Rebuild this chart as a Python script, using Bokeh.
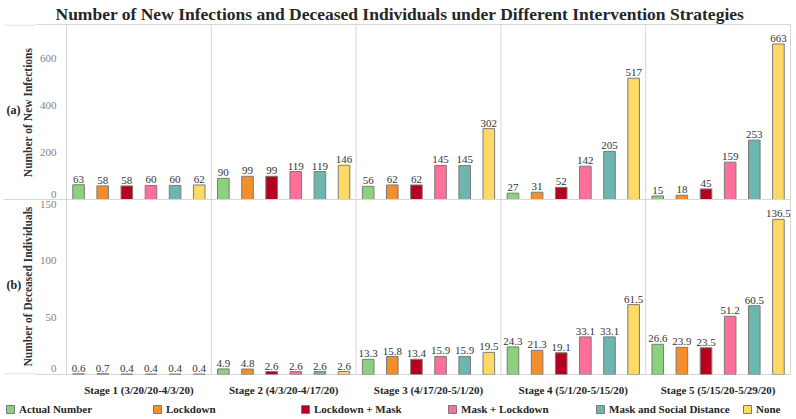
import math
from bokeh.plotting import figure
from bokeh.models import (ColumnDataSource, FactorRange, Range1d, Legend, LegendItem,
                          Span, FixedTicker)
from bokeh.transform import dodge
from bokeh.layouts import column, row
from bokeh.embed import file_html
from bokeh.resources import INLINE
from bokeh.core.properties import value

# ---------------- data ----------------
stages = ["Stage 1 (3/20/20-4/3/20)", "Stage 2 (4/3/20-4/17/20)", "Stage 3 (4/17/20-5/1/20)",
          "Stage 4 (5/1/20-5/15/20)", "Stage 5 (5/15/20-5/29/20)"]
strategies = ["Actual Number", "Lockdown", "Lockdown + Mask", "Mask + Lockdown",
              "Mask and Social Distance", "None"]
colors = ["#8cd17d", "#f28e2b", "#b5001f", "#ff6f9c", "#6db6ae", "#ffd966"]

inf_actual = [63, 90, 56, 27, 15]
inf_lockdown = [58, 99, 62, 31, 18]
inf_lockdown_mask = [58, 99, 62, 52, 45]
inf_mask_lockdown = [60, 119, 145, 142, 159]
inf_mask_distance = [60, 119, 145, 205, 253]
inf_none = [62, 146, 302, 517, 663]

dec_actual = [0.6, 4.9, 13.3, 24.3, 26.6]
dec_lockdown = [0.7, 4.8, 15.8, 21.3, 23.9]
dec_lockdown_mask = [0.4, 2.6, 13.4, 19.1, 23.5]
dec_mask_lockdown = [0.4, 2.6, 15.9, 33.1, 51.2]
dec_mask_distance = [0.4, 2.6, 15.9, 33.1, 60.5]
dec_none = [0.4, 2.6, 19.5, 61.5, 136.5]

inf_ticks = [0, 200, 400, 600]
dec_ticks = [0, 50, 100, 150]

infections = [inf_actual, inf_lockdown, inf_lockdown_mask, inf_mask_lockdown, inf_mask_distance, inf_none]
deceased = [dec_actual, dec_lockdown, dec_lockdown_mask, dec_mask_lockdown, dec_mask_distance, dec_none]

title_text = "Number of New Infections and Deceased Individuals under Different Intervention Strategies"
inf_label = "Number of New Infections"
dec_label = "Number of Deceased Individuals"

# ---------------- layout constants ----------------
SERIF = "Liberation Serif"
GRID = "#d6d6d6"
SIDE_W = 36            # narrow figure holding "(a)", "(b)" and the axis titles
MAIN_W = 755
TOTAL_W = SIDE_W + MAIN_W
TITLE_H = 27           # height taken by the title panel
BOTTOM_B = 23          # room for stage labels
LEFT_B = 30            # room for tick labels
HT, HB = 174, 174      # pixel heights of the two panels
H = HT + HB
MAIN_H = TITLE_H + H + BOTTOM_B
LEG_H = 20
I_END = 746
D_END = 154
Y_END = D_END * H / HB

n = len(strategies)
slot = 1.0 / n
bar_w = slot * 0.48

# primary y range = deceased panel (bottom); extra range "inf" = top panel
main = figure(x_range=FactorRange(*stages, range_padding=0),
              y_range=Range1d(0, Y_END),
              width=MAIN_W, height=MAIN_H, output_backend="svg", toolbar_location=None,
              min_border_left=LEFT_B, min_border_right=1, min_border_top=0,
              min_border_bottom=BOTTOM_B, title=title_text)
main.extra_y_ranges = {"inf": Range1d(-HB * I_END / HT, I_END)}
main.outline_line_color = GRID
main.grid.grid_line_color = None

main.title.align = "left"
main.title.offset = -11
main.title.standoff = 2
main.title.text_font = SERIF
main.title.text_font_size = "17.5px"
main.title.text_font_style = "bold"
main.title.text_color = "#262626"

for i, name in enumerate(strategies):
    off = (i + 0.5) * slot - 0.5
    xs = dodge("stage", off, range=main.x_range)
    # top panel : infections
    s1 = ColumnDataSource(dict(stage=stages, top=infections[i],
                               label=[f"{v:d}" for v in infections[i]]))
    main.vbar(x=xs, top="top", width=bar_w, source=s1, y_range_name="inf",
              fill_color=colors[i], line_color="#7a7a7a", line_width=1)
    main.text(x=xs, y="top", text="label", source=s1, y_range_name="inf", y_offset=-2,
              text_align="center", text_baseline="bottom", text_font=value(SERIF),
              text_font_size=value("11px"), text_color="#333333")
    # bottom panel : deceased
    s2 = ColumnDataSource(dict(stage=stages, top=deceased[i],
                               label=[f"{v:.1f}" for v in deceased[i]]))
    main.vbar(x=xs, top="top", width=bar_w, source=s2,
              fill_color=colors[i], line_color="#7a7a7a", line_width=1)
    main.text(x=xs, y="top", text="label", source=s2, y_offset=-2,
              text_align="center", text_baseline="bottom", text_font=value(SERIF),
              text_font_size=value("11px"), text_color="#333333")

for k in range(1, len(stages)):
    main.add_layout(Span(location=k, dimension="height", line_color=GRID, line_width=1))
main.add_layout(Span(location=D_END, dimension="width", line_color=GRID, line_width=1))


def inf_to_primary(v, nudge_px=0.0):
    return round((HB + nudge_px + v * HT / I_END) * D_END / HB, 3)


def dec_to_primary(v, nudge_px=0.0):
    return round(v + nudge_px * D_END / HB, 3)


top_tick_pos = [inf_to_primary(v, 5 if v == 0 else 0) for v in inf_ticks]
bot_tick_pos = [dec_to_primary(v, 6 if v == 0 else 0) for v in dec_ticks]
overrides = {pos: str(v) for pos, v in zip(top_tick_pos, inf_ticks)}
overrides.update({pos: str(v) for pos, v in zip(bot_tick_pos, dec_ticks) if v == 0})

ya = main.yaxis[0]
# minor ticks are used only to carry the panel rules out into the axis margin
ya.ticker = FixedTicker(ticks=bot_tick_pos + top_tick_pos, minor_ticks=[0, D_END, Y_END])
ya.major_label_overrides = overrides
ya.axis_line_color = None
ya.major_tick_line_color = None
ya.major_tick_out = 0
ya.major_tick_in = 0
ya.minor_tick_line_color = GRID
ya.minor_tick_out = LEFT_B
ya.minor_tick_in = 0
ya.major_label_standoff = 10 - LEFT_B
ya.major_label_text_font = SERIF
ya.major_label_text_font_size = "11px"
ya.major_label_text_color = "#7f7f7f"

xa = main.xaxis[0]
xa.axis_line_color = None
xa.major_tick_line_color = None
xa.minor_tick_line_color = None
xa.major_tick_out = 0
xa.major_tick_in = 0
xa.major_label_standoff = 9
xa.major_label_text_font = SERIF
xa.major_label_text_font_size = "11px"
xa.major_label_text_font_style = "bold"
xa.major_label_text_color = "#262626"

# ---------------- side figure with panel tags and axis titles ----------------
# (its frame is aligned by the row layout with the frame of the main figure)
side = figure(width=SIDE_W, height=MAIN_H, x_range=(0, SIDE_W), y_range=(-1, H + 1),
              output_backend="svg", toolbar_location=None, x_axis_type=None, y_axis_type=None,
              min_border=0, min_border_left=0, min_border_right=0, min_border_top=0,
              min_border_bottom=0)
side.outline_line_color = None
side.grid.grid_line_color = None
rule_levels = [-0.5, HB, H + 0.5]
side.segment(x0=[3] * 3, x1=[SIDE_W] * 3, y0=rule_levels, y1=rule_levels,
             line_color=GRID, line_width=1)
top_center = HB + HT / 2
bot_center = HB / 2
side.text(x=[6, 6], y=[top_center + 3, bot_center + 2], text=["(a)", "(b)"], text_align="left",
          text_baseline="middle", text_font=value(SERIF), text_font_size=value("12px"),
          text_font_style="bold", text_color="#222222")
side.text(x=[27, 27], y=[top_center, bot_center], text=[inf_label, dec_label], angle=math.pi / 2,
          text_align="center", text_baseline="middle", text_font=value(SERIF),
          text_font_size=value("11.5px"), text_font_style="bold", text_color="#333333")

# ---------------- legend strip ----------------
leg = figure(width=TOTAL_W, height=LEG_H, x_range=(0, 1), y_range=(0, 1),
             output_backend="svg", toolbar_location=None, x_axis_type=None, y_axis_type=None,
             min_border=0, min_border_left=0, min_border_right=0, min_border_top=0,
             min_border_bottom=0)
leg.outline_line_color = None
leg.grid.grid_line_color = None
for i, name in enumerate(strategies):
    # proxy renderer (drawn outside the visible range) that carries the legend swatch style
    r = leg.vbar(x=[5], top=[6], bottom=[5], width=0.1, fill_color=colors[i], line_color="#7a7a7a")
    lg = Legend(items=[LegendItem(label=name, renderers=[r])],
                location=(5 + round(i * 147.4), 3),
                orientation="horizontal", background_fill_alpha=0, border_line_color=None,
                padding=0, margin=0, spacing=0, glyph_width=10, glyph_height=10,
                label_standoff=4, label_height=12, label_text_font=SERIF,
                label_text_font_size="11px", label_text_font_style="bold",
                label_text_color="#262626")
    leg.add_layout(lg, "center")

layout = column(row(side, main, spacing=0), leg, spacing=0)
open("out.html", "w").write(file_html(layout, INLINE))
